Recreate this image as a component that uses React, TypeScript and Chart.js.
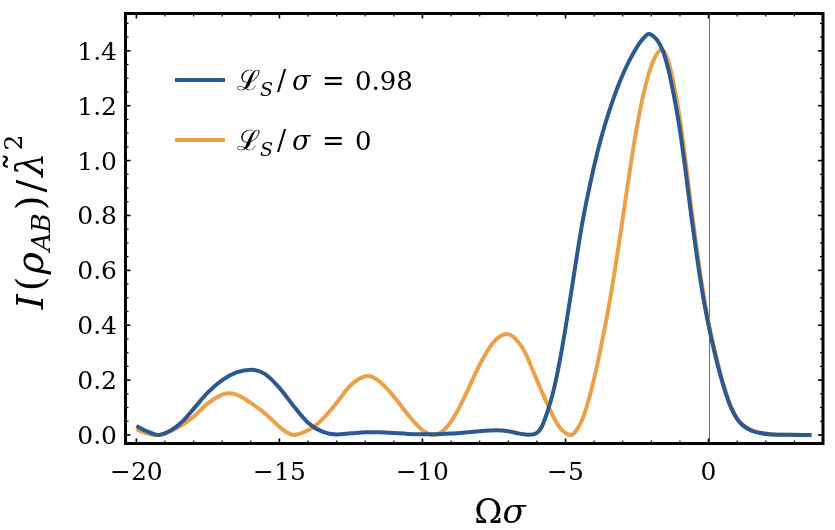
import React, { useEffect, useRef } from "react";
import { Chart, registerables } from "chart.js";

Chart.register(...registerables);

// ---- data ----
const blueX = [-20, -19.6, -19.2, -18.8, -18.4, -18.0, -17.5, -17.0, -16.5, -16.0, -15.5, -15.0, -14.5, -14.0, -13.5, -13.0, -12.5, -12.0, -11.5, -11.0, -10.5, -10.0, -9.5, -9.0, -8.5, -8.0, -7.4, -7.0, -6.6, -6.3, -6.0, -5.83, -5.6, -5.4, -5.2, -5.0, -4.8, -4.6, -4.4, -4.2, -4.0, -3.8, -3.6, -3.4, -3.2, -3.0, -2.8, -2.6, -2.4, -2.2, -2.1, -2.0, -1.8, -1.6, -1.4, -1.2, -1.0, -0.8, -0.6, -0.4, -0.2, 0, 0.2, 0.4, 0.6, 0.8, 1.0, 1.2, 1.5, 1.8, 2.2, 2.8, 3.6];
const blueY = [0.033, 0.012, 0.0, 0.016, 0.048, 0.095, 0.155, 0.2, 0.228, 0.238, 0.222, 0.172, 0.105, 0.045, 0.012, 0.002, 0.006, 0.010, 0.010, 0.007, 0.004, 0.003, 0.003, 0.005, 0.009, 0.014, 0.017, 0.014, 0.005, 0.001, 0.008, 0.03, 0.095, 0.17, 0.27, 0.39, 0.52, 0.655, 0.78, 0.885, 0.98, 1.065, 1.138, 1.203, 1.262, 1.313, 1.358, 1.397, 1.43, 1.454, 1.461, 1.459, 1.44, 1.40, 1.33, 1.23, 1.11, 0.96, 0.795, 0.645, 0.51, 0.40, 0.305, 0.222, 0.152, 0.096, 0.058, 0.035, 0.016, 0.007, 0.002, 0.001, 0.0];

const orangeX = [-20, -19.7, -19.32, -19.0, -18.5, -18.0, -17.5, -17.0, -16.8, -16.5, -16.0, -15.5, -15.0, -14.75, -14.5, -14.2, -13.8, -13.4, -13.0, -12.5, -12.0, -11.9, -11.5, -11.0, -10.5, -10.0, -9.61, -9.2, -8.8, -8.5, -8.0, -7.5, -7.05, -6.5, -6.0, -5.6, -5.2, -4.81, -4.6, -4.4, -4.2, -4.0, -3.8, -3.6, -3.4, -3.2, -3.0, -2.8, -2.6, -2.4, -2.2, -2.0, -1.8, -1.63, -1.4, -1.2, -1.0, -0.8, -0.6, -0.4, -0.2, 0, 0.2, 0.4, 0.6, 0.8, 1.0, 1.2, 1.5, 1.8, 2.2, 2.8, 3.6];
const orangeY = [0.021, 0.008, 0.0, 0.006, 0.03, 0.067, 0.115, 0.147, 0.152, 0.147, 0.117, 0.078, 0.03, 0.01, 0.0, 0.008, 0.03, 0.068, 0.117, 0.182, 0.214, 0.215, 0.195, 0.14, 0.073, 0.018, 0.0, 0.023, 0.083, 0.145, 0.256, 0.34, 0.368, 0.317, 0.20, 0.105, 0.027, 0.0, 0.02, 0.06, 0.125, 0.205, 0.30, 0.405, 0.52, 0.65, 0.79, 0.93, 1.065, 1.18, 1.275, 1.345, 1.39, 1.405, 1.36, 1.27, 1.15, 0.995, 0.825, 0.67, 0.53, 0.41, 0.315, 0.23, 0.158, 0.1, 0.06, 0.036, 0.017, 0.008, 0.003, 0.001, 0.0];

const seriesLabels = ["0.98", "0"];
const xTickValues = [-20, -15, -10, -5, 0];
const xTickLabels = ["\u221220", "\u221215", "\u221210", "\u22125", "0"];
const xMinorTicks = [-19, -18, -17, -16, -14, -13, -12, -11, -9, -8, -7, -6, -4, -3, -2, -1, 1, 2, 3];
const yTickValues = [0, 0.2, 0.4, 0.6, 0.8, 1.0, 1.2, 1.4];
const yTickLabels = ["0.0", "0.2", "0.4", "0.6", "0.8", "1.0", "1.2", "1.4"];
const yMinorTicks = [0.05, 0.1, 0.15, 0.25, 0.3, 0.35, 0.45, 0.5, 0.55, 0.65, 0.7, 0.75, 0.85, 0.9, 0.95, 1.05, 1.1, 1.15, 1.25, 1.3, 1.35, 1.45, 1.5];

const X_MIN = -20.38;
const X_MAX = 4.0;
const Y_MIN = -0.031;
const Y_MAX = 1.536;

const BLUE = "#2c5a8e";
const ORANGE = "#eba04a";
const SERIF = "'DejaVu Serif', 'Liberation Serif', serif";

type Piece = { t: string; size: number; italic?: boolean; dy?: number; gap?: number; at?: number; tilde?: boolean };

function setFont(ctx: CanvasRenderingContext2D, p: Piece) {
  ctx.font = `${p.italic ? "italic " : ""}${p.size}px ${SERIF}`;
}

function drawPieces(ctx: CanvasRenderingContext2D, pieces: Piece[], x: number, y: number, align: "left" | "center") {
  const widths = pieces.map((p) => {
    setFont(ctx, p);
    return ctx.measureText(p.t).width + (p.gap || 0);
  });
  const total = widths.reduce((a, b) => a + b, 0);
  let cx = align === "center" ? x - total / 2 : x;
  ctx.textAlign = "left";
  ctx.textBaseline = "alphabetic";
  pieces.forEach((p, i) => {
    if (p.at !== undefined) cx = p.at;
    setFont(ctx, p);
    ctx.fillText(p.t, cx, y + (p.dy || 0));
    if (p.tilde) {
      const w = widths[i] - (p.gap || 0);
      ctx.font = `${p.size}px ${SERIF}`;
      ctx.textAlign = "center";
      ctx.fillText("\u02DC", cx + w / 2 + 3, y - p.size * 0.3);
      ctx.textAlign = "left";
    }
    cx += widths[i];
  });
}

const framePlugin = {
  id: "mmaFrame",
  beforeDatasetsDraw(chart: any) {
    const { ctx, chartArea } = chart;
    const xs = chart.scales.x;
    const px = xs.getPixelForValue(0);
    ctx.save();
    ctx.strokeStyle = "#6e6e6e";
    ctx.lineWidth = 1;
    ctx.beginPath();
    ctx.moveTo(Math.round(px) + 0.5, chartArea.top);
    ctx.lineTo(Math.round(px) + 0.5, chartArea.bottom);
    ctx.stroke();
    ctx.restore();
  },
  afterDraw(chart: any) {
    const { ctx, chartArea } = chart;
    const xs = chart.scales.x;
    const ys = chart.scales.y;
    const { left, right, top, bottom } = chartArea;
    ctx.save();
    ctx.strokeStyle = "#000";
    ctx.fillStyle = "#000";
    const tick = (x1: number, y1: number, x2: number, y2: number, w: number) => {
      ctx.lineWidth = w;
      ctx.beginPath();
      ctx.moveTo(x1, y1);
      ctx.lineTo(x2, y2);
      ctx.stroke();
    };
    const MAJ = 5, MIN = 3;
    xTickValues.forEach((v) => {
      const p = xs.getPixelForValue(v);
      tick(p, bottom, p, bottom - MAJ, 1.6);
      tick(p, top, p, top + MAJ, 1.6);
    });
    xMinorTicks.forEach((v) => {
      const p = xs.getPixelForValue(v);
      tick(p, bottom, p, bottom - MIN, 1.2);
      tick(p, top, p, top + MIN, 1.2);
    });
    yTickValues.forEach((v) => {
      const p = ys.getPixelForValue(v);
      tick(left, p, left + MAJ, p, 1.6);
      tick(right, p, right - MAJ, p, 1.6);
    });
    yMinorTicks.forEach((v) => {
      const p = ys.getPixelForValue(v);
      tick(left, p, left + MIN, p, 1.2);
      tick(right, p, right - MIN, p, 1.2);
    });
    ctx.lineWidth = 3;
    ctx.strokeRect(left, top, right - left, bottom - top);

    // tick labels
    ctx.font = `25px ${SERIF}`;
    ctx.textBaseline = "alphabetic";
    ctx.textAlign = "center";
    xTickValues.forEach((v, i) => {
      ctx.fillText(xTickLabels[i], xs.getPixelForValue(v), 480);
    });
    ctx.textAlign = "right";
    yTickValues.forEach((v, i) => {
      ctx.fillText(yTickLabels[i], 117, ys.getPixelForValue(v) + 9);
    });

    // x title
    drawPieces(ctx, [
      { t: "\u03A9", size: 34 },
      { t: "\u03C3", size: 34, italic: true },
    ], 500, 523, "center");

    // y title (rotated)
    ctx.save();
    ctx.translate(43, 222);
    ctx.rotate(-Math.PI / 2);
    drawPieces(ctx, [
      { t: "I", size: 38, italic: true, gap: 3 },
      { t: "(", size: 38, gap: 2 },
      { t: "\u03C1", size: 38, italic: true, gap: 1 },
      { t: "AB", size: 26, italic: true, dy: 7, gap: 3 },
      { t: ")", size: 38, gap: 3 },
      { t: "/", size: 38, gap: 3 },
      { t: "\u03BB", size: 38, italic: true, tilde: true, gap: 2 },
      { t: "2", size: 25, dy: -21 },
    ], 0, 0, "center");
    ctx.restore();

    // legend
    const ds = chart.data.datasets;
    const rows = [80, 140];
    const bases = [89.5, 150];
    ds.forEach((d: any, i: number) => {
      ctx.strokeStyle = d.borderColor;
      ctx.lineWidth = 4;
      ctx.beginPath();
      ctx.moveTo(175, rows[i]);
      ctx.lineTo(225, rows[i]);
      ctx.stroke();
      ctx.fillStyle = "#000";
      drawPieces(ctx, [
        { t: "\u2112", size: 28, at: 237 },
        { t: "S", size: 19, italic: true, dy: 6, at: 260 },
        { t: "/", size: 27, at: 277 },
        { t: "\u03C3", size: 27, italic: true, at: 292 },
        { t: "=", size: 27, at: 322 },
        { t: seriesLabels[i], size: 26, at: 355 },
      ], 237, bases[i], "left");
    });
    ctx.restore();
  },
};

export default function App() {
  const ref = useRef<HTMLCanvasElement | null>(null);
  useEffect(() => {
    if (!ref.current) return;
    const chart = new Chart(ref.current, {
      type: "line",
      data: {
        datasets: [
          {
            label: "\u2112S/\u03C3 = 0.98",
            data: blueX.map((x, i) => ({ x, y: blueY[i] })),
            borderColor: BLUE,
            borderWidth: 4,
            pointRadius: 0,
            cubicInterpolationMode: "monotone",
            fill: false,
          },
          {
            label: "\u2112S/\u03C3 = 0",
            data: orangeX.map((x, i) => ({ x, y: orangeY[i] })),
            borderColor: ORANGE,
            borderWidth: 4,
            pointRadius: 0,
            cubicInterpolationMode: "monotone",
            fill: false,
          },
        ],
      },
      options: {
        animation: false,
        responsive: false,
        devicePixelRatio: 1,
        layout: { padding: { left: 125.5, right: 12, top: 13.5, bottom: 86.5 } },
        plugins: { legend: { display: false }, tooltip: { enabled: false } },
        scales: {
          x: { type: "linear", display: false, min: X_MIN, max: X_MAX },
          y: { type: "linear", display: false, min: Y_MIN, max: Y_MAX },
        },
      },
      plugins: [framePlugin],
    } as any);
    return () => chart.destroy();
  }, []);
  return (
    <div style={{ position: "absolute", left: 0, top: 0, width: 835, height: 530, background: "#fff" }}>
      <canvas ref={ref} width={835} height={530} style={{ width: 835, height: 530, display: "block" }} />
    </div>
  );
}
